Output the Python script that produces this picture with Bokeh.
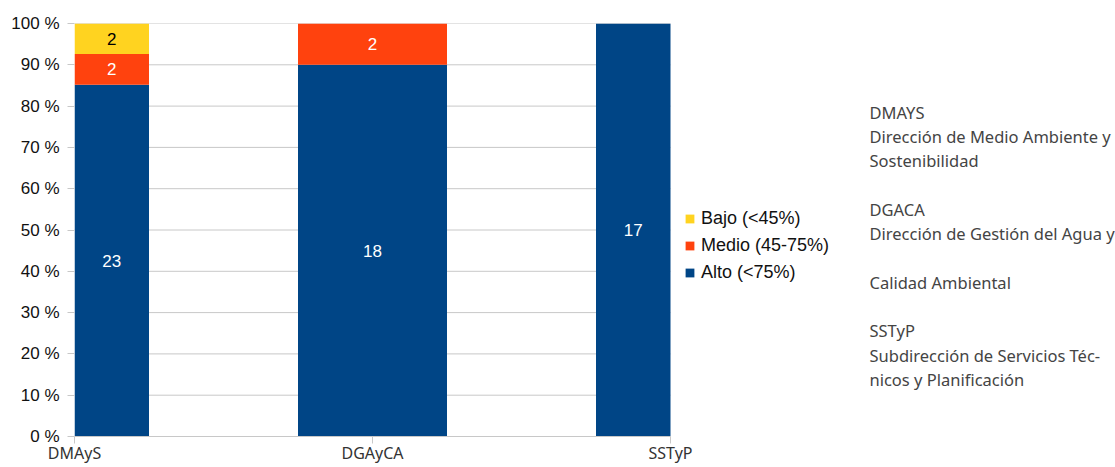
from bokeh.plotting import figure
from bokeh.models import (ColumnDataSource, Range1d, FixedTicker, PrintfTickFormatter,
                          Legend, LegendItem, Label)
from bokeh.core.properties import value
from bokeh.embed import file_html
from bokeh.resources import INLINE

# ---- data ----
categories = ["DMAyS", "DGAyCA", "SSTyP"]
series_names = ["Alto (<75%)", "Medio (45-75%)", "Bajo (<45%)"]
alto = [23, 18, 17]
medio = [2, 2, 0]
bajo = [2, 0, 0]
colors = ["#004586", "#ff420e", "#ffd320"]
label_colors = ["white", "white", "black"]
y_ticks = [0, 10, 20, 30, 40, 50, 60, 70, 80, 90, 100]
side_notes = [
    "DMAYS", "Dirección de Medio Ambiente y", "Sostenibilidad",
    "DGACA", "Dirección de Gestión del Agua y",
    "Calidad Ambiental",
    "SSTyP", "Subdirección de Servicios Téc-", "nicos y Planificación",
]
side_gaps = [0, 1, 1, 2, 1, 2, 2, 1, 1]  # line steps before each note line

# ---- layout constants ----
W, H = 1115, 467
TOP, BOTTOM, LEFT, RIGHT = 23, 31, 74, 0
PLOT_AREA_W = 596          # width (px) of the category axis part
FRAME_W = W - LEFT - RIGHT
FRAME_H = H - TOP - BOTTOM

# ---- derived ----
x = list(range(len(categories)))
BAR_W = 0.5
X0, X1 = 0, len(categories) - 1
X_END = X1 * FRAME_W / PLOT_AREA_W

totals = [a + m + b for a, m, b in zip(alto, medio, bajo)]
pct = {
    "alto": [v / t * 100 for v, t in zip(alto, totals)],
    "medio": [v / t * 100 for v, t in zip(medio, totals)],
    "bajo": [v / t * 100 for v, t in zip(bajo, totals)],
}
# bars are clipped to the category axis extent
lefts = [max(xi - BAR_W / 2, X0) for xi in x]
rights = [min(xi + BAR_W / 2, X1) for xi in x]
xc = [(l + r) / 2 for l, r in zip(lefts, rights)]
wv = [r - l for l, r in zip(lefts, rights)]
src = ColumnDataSource(dict(xc=xc, w=wv, **pct))

p = figure(width=W, height=H, output_backend="svg", toolbar_location=None,
           x_range=Range1d(X0, X_END), y_range=Range1d(0, 100),
           min_border_left=LEFT, min_border_right=RIGHT,
           min_border_top=TOP, min_border_bottom=BOTTOM)
p.outline_line_color = None
p.background_fill_color = "white"
p.border_fill_color = "white"

GRID = "#c8c8c8"
# horizontal grid lines spanning only the category extent
p.segment(x0=[X0] * len(y_ticks), x1=[X1] * len(y_ticks), y0=y_ticks, y1=y_ticks,
          line_color=GRID, line_width=1, level="underlay")

renderers = p.vbar_stack(["alto", "medio", "bajo"], x="xc", width="w",
                         color=colors, line_color=None, source=src)

# bar value labels
lx, ly, lt, lc = [], [], [], []
counts = [alto, medio, bajo]
keys = ["alto", "medio", "bajo"]
for i in range(len(x)):
    base = 0.0
    for s, k in enumerate(keys):
        h = pct[k][i]
        if counts[s][i] > 0:
            lx.append(xc[i])
            ly.append(base + h / 2)
            lt.append(str(counts[s][i]))
            lc.append(label_colors[s])
        base += h
p.text(x=lx, y=ly, text=lt, text_color=lc, text_align="center",
       text_baseline="middle", text_font=value("Liberation Sans"),
       text_font_size="17px")

# axes
p.xaxis.ticker = FixedTicker(ticks=x)
p.xaxis.major_label_overrides = {i: c for i, c in zip(x, categories)}
p.xaxis.bounds = (X0, X1)
p.xaxis.minor_tick_line_color = None
p.xaxis.major_tick_out = 7
p.xaxis.major_tick_in = 0
p.xaxis.major_tick_line_color = GRID
p.xaxis.axis_line_color = GRID
p.xaxis.major_label_standoff = -2
p.xaxis.major_label_text_font = "Noto Sans"
p.xaxis.major_label_text_font_size = "16px"
p.xaxis.major_label_text_color = "#333333"

p.yaxis.ticker = FixedTicker(ticks=y_ticks)
p.yaxis.formatter = PrintfTickFormatter(format="%d %%")
p.yaxis.minor_tick_line_color = None
p.yaxis.major_tick_out = 7
p.yaxis.major_tick_in = 0
p.yaxis.major_tick_line_color = GRID
p.yaxis.axis_line_color = None
p.yaxis.major_label_standoff = 8
p.yaxis.major_label_text_font = "Liberation Sans"
p.yaxis.major_label_text_font_size = "17px"
p.yaxis.major_label_text_color = "#111111"

p.xgrid.grid_line_color = None
p.ygrid.grid_line_color = None

# legend (top to bottom: Bajo, Medio, Alto)
items = [LegendItem(label=series_names[i], renderers=[renderers[i]]) for i in (2, 1, 0)]
legend = Legend(items=items, location=(610, 153), padding=0, margin=0,
                border_line_color=None, background_fill_alpha=0,
                glyph_width=11, glyph_height=11, label_standoff=6,
                label_height=20, spacing=6,
                label_text_font="Liberation Sans", label_text_font_size="18px",
                label_text_color="#111111")
p.add_layout(legend)

# side notes (screen units relative to the plot frame's bottom-left)
frame_bottom = TOP + FRAME_H
first_baseline = 111.5
step = 24.3
cur = first_baseline
for txt, g in zip(side_notes, side_gaps):
    cur += g * step
    p.add_layout(Label(x=869 - LEFT, y=frame_bottom - cur, x_units="screen", y_units="screen",
                       text=txt, text_font="Noto Sans", text_font_size="16.5px",
                       text_color="#444444", text_baseline="alphabetic"))

open("out.html", "w").write(file_html(p, INLINE))
